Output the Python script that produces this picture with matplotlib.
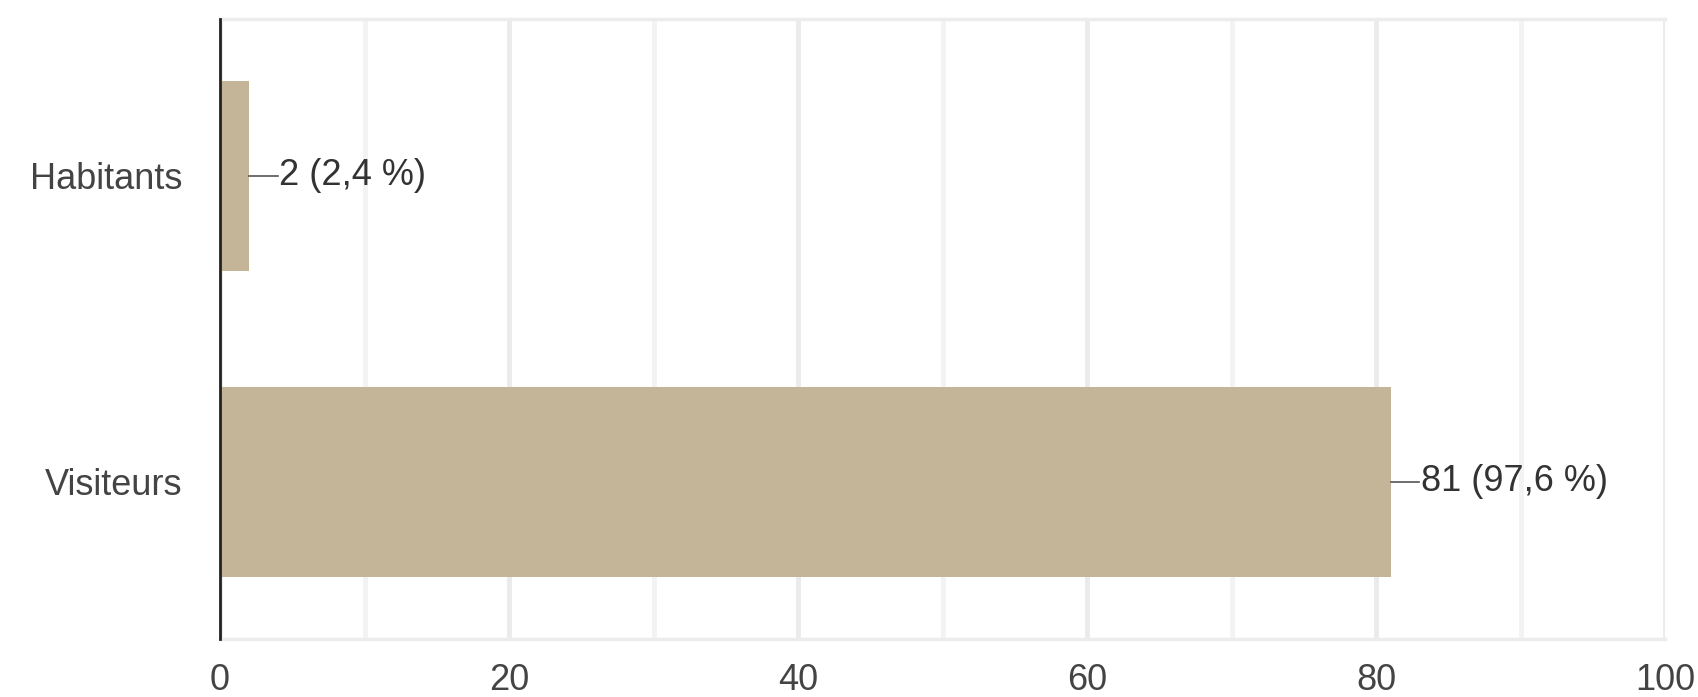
import numpy as np
from matplotlib import pyplot as plt

categories = ["Habitants", "Visiteurs"]
counts = [2, 81]
percents = ["2,4 %", "97,6 %"]
x_ticks = [0, 20, 40, 60, 80, 100]

bar_color = "#c4b599"
text_color = "#444444"

plt.rcParams["font.family"] = ["Liberation Sans", "DejaVu Sans"]

fig = plt.figure(figsize=(16.98, 6.97), dpi=100)
ax = fig.add_axes([0.1296, 0.0832, 0.851, 0.889])

y = np.arange(len(categories))
ax.barh(y, counts, height=0.62, color=bar_color, zorder=3)

# value labels with a short leader line
for yi, c, p in zip(y, counts, percents):
    ax.plot([c, c + 2.0], [yi, yi], color="#555555", linewidth=1.2, zorder=4)
    ax.text(c + 2.1, yi, f"{c} ({p})", va="center", ha="left",
            fontsize=26, color="#333333", zorder=4)

ax.set_xlim(0, 100)
ax.set_ylim(1.513, -0.511)
ax.set_yticks(y)
ax.set_yticklabels(categories)
ax.set_xticks(x_ticks)
ax.set_xticks(np.arange(10, 100, 20), minor=True)

ax.grid(axis="x", which="major", color="#ebebeb", linewidth=3.5, zorder=0)
ax.grid(axis="x", which="minor", color="#f3f3f3", linewidth=3.5, zorder=0)
ax.tick_params(axis="both", which="both", length=0, labelsize=26,
               labelcolor=text_color)
ax.tick_params(axis="x", pad=17)
ax.tick_params(axis="y", pad=27)

for side in ["top", "right", "bottom"]:
    ax.spines[side].set_color("#ececec")
    ax.spines[side].set_linewidth(2.5)
ax.spines["right"].set_visible(False)
ax.spines["left"].set_color("#222222")
ax.spines["left"].set_linewidth(2)
ax.spines["left"].set_zorder(5)

fig.savefig("out.png", dpi=100, facecolor="white")
